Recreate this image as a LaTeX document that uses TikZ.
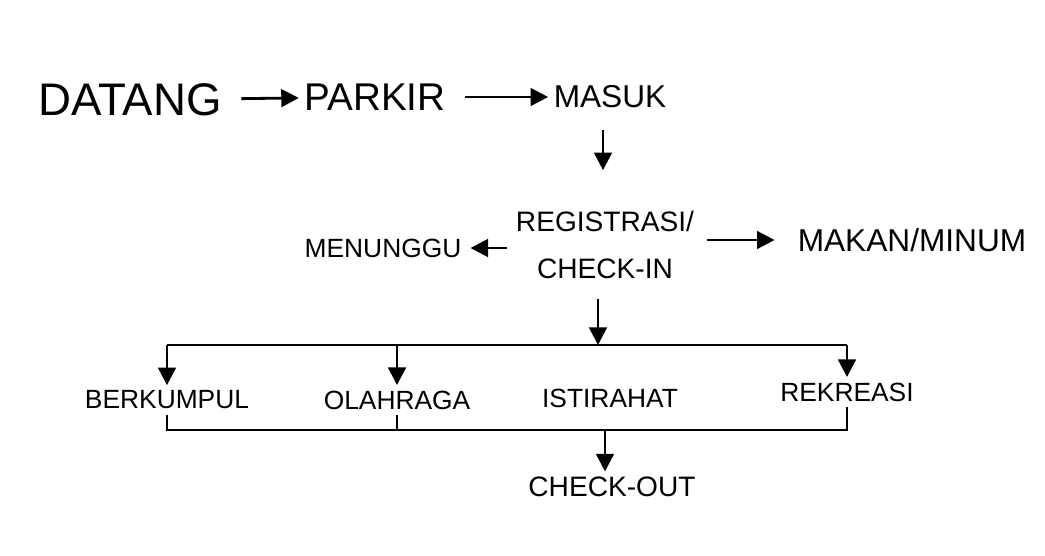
\documentclass[tikz,border=0pt]{standalone}
\usepackage{fontspec}
\setmainfont{Liberation Sans}
\usetikzlibrary{arrows.meta}
\tikzset{
  lbl/.style={inner sep=3pt,font=\fontsize{15}{17}\selectfont},
  arr/.style={line width=1.6pt,-{Triangle[length=10pt,width=10pt]}},
  brk/.style={line width=1.4pt}
}
\begin{document}
\begin{tikzpicture}[x=0.02cm,y=-0.02cm]
  \useasboundingbox[fill=white] (0,0) rectangle (1045,555);
  % baris atas
  \path
  (130,100) node[lbl,font=\fontsize{26}{28}\selectfont] (datang) {DATANG}
  (375,97) node[lbl,font=\fontsize{22}{24}\selectfont] (parkir) {PARKIR}
  (610,97) node[lbl,font=\fontsize{18}{20}\selectfont] (masuk) {MASUK}
  (605,245) node[lbl,align=center,font=\fontsize{16}{27}\selectfont] (regis) {REGISTRASI/\\CHECK-IN}
  (383,248) node[lbl] (menunggu) {MENUNGGU}
  (912,240) node[lbl,font=\fontsize{18}{20}\selectfont] (makan) {MAKAN/MINUM}
  ;
  \coordinate (hub) at (598,345);
  \coordinate (join) at (605,430);
  \foreach \a/\b in {datang/parkir,parkir/masuk}
  \draw[arr,shorten <=8pt] (\a)--(\b);
  \draw[arr,shorten <=9pt,shorten >=20pt] (masuk.south -| 603,0)--(regis.north -| 603,0);
  \draw[arr,shorten <=2pt,shorten >=2pt] (regis.west |- menunggu)--(menunggu);
  \draw[arr,shorten <=4pt,shorten >=10pt] (regis.east |- makan)--(makan);
  % kegiatan
  \path
  (167,400) node[lbl] (kumpul) {BERKUMPUL}
  (397,400) node[lbl] (olahraga) {OLAHRAGA}
  (610,398) node[lbl] (istirahat) {ISTIRAHAT}
  (847,392) node[lbl] (rekreasi) {REKREASI}
  (612,487) node[lbl,font=\fontsize{16}{18}\selectfont] (checkout) {CHECK-OUT}
  ;
  \draw[arr,shorten <=8pt] (regis.south -| hub)--(hub);
  \draw[brk] (hub -| kumpul)--(hub -| rekreasi);
  \foreach \k in {kumpul,olahraga,rekreasi}
  \draw[arr] (hub -| \k)--(\k.north);
  \draw[brk] (kumpul.south) |- (join) -| (rekreasi.south);
  \draw[brk] (olahraga.south)--(olahraga.south |- join);
  \draw[arr] (join)--(checkout.north -| join);
\end{tikzpicture}
\end{document}
